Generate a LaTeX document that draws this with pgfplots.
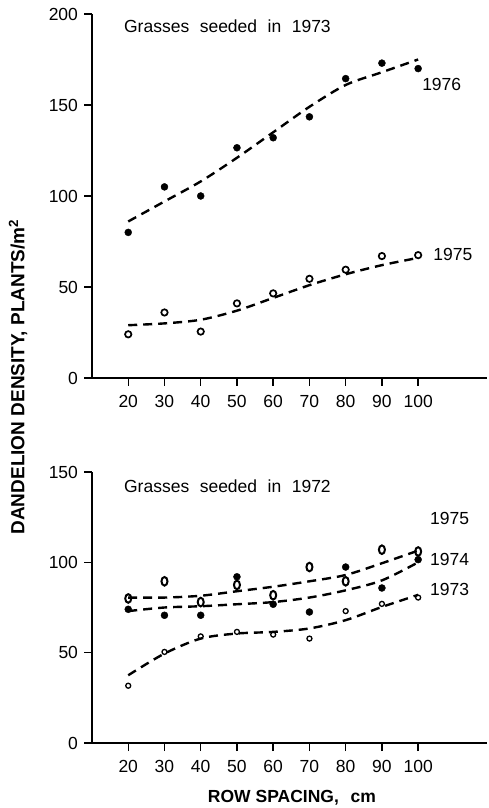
\documentclass[border=0pt]{standalone}
\usepackage{pgfplots}
\pgfplotsset{compat=1.18}
\usepackage{fontspec}
\setmainfont{Liberation Sans}
\setsansfont{Liberation Sans}

\begin{document}
\fontsize{17.5}{20}\selectfont
\begin{tikzpicture}
\path[use as bounding box] (0pt,0pt) rectangle (488pt,808pt);
\pgfplotsset{
  dand/.style={
    scale only axis, width=395pt,
    xmin=10, xmax=119, ymin=0,
    axis x line=bottom, axis y line=left,
    axis line style={-, line width=1.6pt},
    xtick={20,30,...,100},
    tick align=outside, major tick length=8pt,
    tick style={black, line width=1.4pt},
    xticklabel style={yshift=-3pt},
    /pgf/number format/assume math mode=true,
    ticklabel style={font=\fontsize{17.5}{20}\selectfont},
    clip=false,
  },
  fit/.style={smooth, black, line width=2.4pt, dash pattern=on 9pt off 6pt},
  dots/.style={only marks, mark=*, mark size=3.5pt, black},
}

% upper panel: seeded 1973
\begin{axis}[dand, at={(92pt,430pt)}, anchor=south west,
  height=364pt, ymax=200, ytick={0,50,100,150,200}]
\addplot[dots] coordinates {(20,80) (30,105) (40,100) (50,126.5) (60,132) (70,143.5) (80,164.5) (90,173) (100,170)};
\addplot[fit] coordinates {(20,86) (30,97) (40,108) (50,121) (60,135) (70,149) (80,161) (90,168) (100,175)};
\addplot[only marks, mark=o, mark size=3.2pt, black, mark options={line width=1.7pt}] coordinates {(20,24) (30,36) (40,25.5) (50,41) (60,46.5) (70,54.5) (80,59.5) (90,67) (100,67.5)};
\addplot[fit] coordinates {(20,29) (30,30) (40,32) (50,37) (60,44) (70,51) (80,57) (90,62) (100,66)};
\node[anchor=west] at (axis cs:17.2,193) {Grasses\hspace{0.6em}seeded\hspace{0.6em}in\hspace{0.6em}1973};
\node[anchor=west, inner sep=1pt] at (axis cs:100.8,161) {1976};
\node[anchor=west, inner sep=1pt] at (axis cs:103.9,67.6) {1975};
\end{axis}

% lower panel: seeded 1972
\begin{axis}[dand, at={(92pt,65pt)}, anchor=south west,
  height=271pt, ymax=150, ytick={0,50,100,150}]
\addplot[only marks, mark=o, mark size=4.3pt, black, mark options={xscale=0.7, line width=2pt}] coordinates {(20,80) (30,89.5) (40,78) (50,87.5) (60,81.8) (70,97.4) (80,89.5) (90,107) (100,106)};
\addplot[dots] coordinates {(20,74) (30,70.7) (40,70.7) (50,92) (60,76.8) (70,72.5) (80,97.4) (90,85.8) (100,101.5)};
\addplot[only marks, mark=o, mark size=2.5pt, black, mark options={line width=1.3pt}] coordinates {(20,31.7) (30,50.4) (40,59) (50,61.5) (60,60) (70,57.8) (80,73) (90,77) (100,80.5)};
\addplot[fit] coordinates {(20,80.5) (30,80.5) (40,81.5) (50,84) (60,86.5) (70,89.5) (80,93) (90,99.5) (100,106.5)};
\addplot[fit] coordinates {(20,73) (30,75) (40,75.7) (50,76.8) (60,78) (70,80.5) (80,84.5) (90,90) (100,100)};
\addplot[fit] coordinates {(20,37.5) (30,49.5) (40,57.8) (50,60.6) (60,61.5) (70,63.4) (80,68) (90,75.3) (100,82)};
\node[anchor=west] at (axis cs:17.2,142) {Grasses\hspace{0.6em}seeded\hspace{0.6em}in\hspace{0.6em}1972};
\node[anchor=west, inner sep=1pt] at (axis cs:103,124.5) {1975};
\node[anchor=west, inner sep=1pt] at (axis cs:103,101.5) {1974};
\node[anchor=west, inner sep=1pt] at (axis cs:103,85) {1973};
\end{axis}

\node[rotate=90, font=\bfseries\fontsize{19}{22}\selectfont] at (18pt,431pt) {DANDELION DENSITY, PLANTS/m\textsuperscript{2}};
\node[font=\bfseries\fontsize{17.5}{20}\selectfont] at (292pt,10pt) {ROW SPACING,\hspace{0.4em} cm};
\end{tikzpicture}
\end{document}
